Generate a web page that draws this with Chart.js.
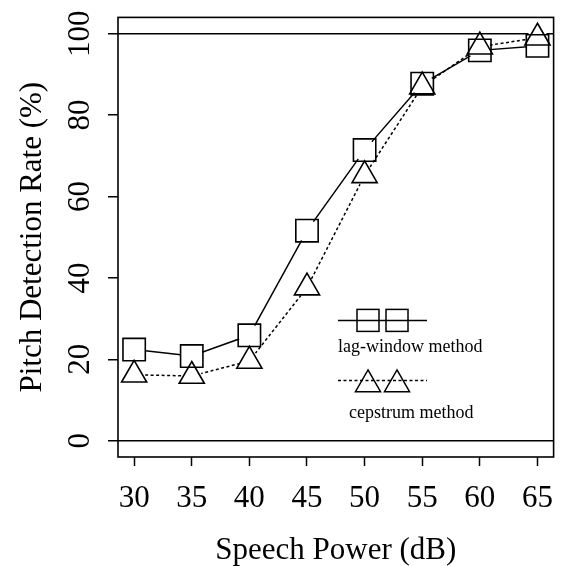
<!DOCTYPE html>
<html>
<head>
<meta charset="utf-8">
<script src="https://cdn.jsdelivr.net/npm/chart.js@4.4.0/dist/chart.umd.min.js"></script>
<style>
body { margin: 0; background: #fff; }
#wrap { width: 571px; height: 566px; }
</style>
</head>
<body>
<div id="wrap"><canvas id="pitch-rate" width="571" height="566"></canvas></div>
<script>
var speechPower = [30, 35, 40, 45, 50, 55, 60, 65];
var lagWindow = [22.4, 20.8, 25.9, 51.6, 71.4, 87.7, 95.9, 97.0];
var cepstrum = [16.2, 15.9, 19.6, 37.6, 65.2, 87.0, 96.8, 99.0];
var xTicks = [30, 35, 40, 45, 50, 55, 60, 65];
var yTicks = [0, 20, 40, 60, 80, 100];
var seriesNames = ['lag-window method', 'cepstrum method'];
var xTitle = 'Speech Power (dB)';
var yTitle = 'Pitch Detection Rate (%)';

Chart.defaults.font.family = 'Liberation Serif';
Chart.defaults.color = '#000';

function toPoints(ys) {
  return speechPower.map(function(x, i) { return {x: x, y: ys[i]}; });
}

// triangle path, centroid on (cx, cy) like the chart markers
function triPath(ctx, cx, cy, r) {
  var h = r * Math.sin(Math.PI / 3);
  ctx.beginPath();
  ctx.moveTo(cx, cy - r);
  ctx.lineTo(cx + h, cy + r / 2);
  ctx.lineTo(cx - h, cy + r / 2);
  ctx.closePath();
}

var boxPlugin = {
  id: 'plotBox',
  afterDraw: function(chart) {
    var ctx = chart.ctx, a = chart.chartArea;
    ctx.save();
    ctx.strokeStyle = '#000';
    ctx.lineWidth = 1.6;
    ctx.strokeRect(a.left, a.top, a.right - a.left, a.bottom - a.top);
    ctx.restore();
  }
};

var legendPlugin = {
  id: 'rLegend',
  afterDraw: function(chart) {
    var ctx = chart.ctx, a = chart.chartArea;
    var x0 = a.left + 220, x1 = a.left + 309;
    var m1 = a.left + 250, m2 = a.left + 279;
    var y1 = a.top + 303, y2 = a.top + 363, yt = a.top + 367;
    ctx.save();
    ctx.strokeStyle = '#000';
    ctx.lineWidth = 1.5;
    ctx.beginPath(); ctx.moveTo(x0, y1); ctx.lineTo(x1, y1); ctx.stroke();
    [m1, m2].forEach(function(mx) { ctx.strokeRect(mx - 11, y1 - 11, 22, 22); });
    ctx.setLineDash([3, 2.5]);
    ctx.beginPath(); ctx.moveTo(x0, y2); ctx.lineTo(x1, y2); ctx.stroke();
    ctx.setLineDash([]);
    [m1, m2].forEach(function(mx) { triPath(ctx, mx, yt, 14.5); ctx.stroke(); });
    ctx.fillStyle = '#000';
    ctx.font = '18px "Liberation Serif"';
    ctx.textAlign = 'left';
    ctx.textBaseline = 'alphabetic';
    ctx.fillText(seriesNames[0], a.left + 220, a.top + 335);
    ctx.fillText(seriesNames[1], a.left + 231, a.top + 401);
    ctx.restore();
  }
};

var ctx = document.getElementById('pitch-rate').getContext('2d');
var pitchChart = new Chart(ctx, {
  type: 'line',
  data: {
    datasets: [
      {label: seriesNames[0], data: toPoints(lagWindow), borderColor: '#000', borderWidth: 1.5,
       pointRadius: 0, fill: false, order: 3},
      {label: seriesNames[1], data: toPoints(cepstrum), borderColor: '#000', borderWidth: 1.5,
       borderDash: [3, 2.5], pointRadius: 0, fill: false, order: 3},
      // white discs give the gaps round the points, as in R type "b"
      {data: toPoints(lagWindow), showLine: false, pointStyle: 'circle', pointRadius: 11,
       pointBackgroundColor: '#fff', pointBorderWidth: 0, pointBorderColor: '#fff', order: 2},
      {data: toPoints(cepstrum), showLine: false, pointStyle: 'circle', pointRadius: 10,
       pointBackgroundColor: '#fff', pointBorderWidth: 0, pointBorderColor: '#fff', order: 2},
      {data: toPoints(lagWindow), showLine: false, pointStyle: 'rect', pointRadius: 15.8,
       pointBackgroundColor: 'rgba(0,0,0,0)', pointBorderColor: '#000', pointBorderWidth: 1.6, order: 1},
      {data: toPoints(cepstrum), showLine: false, pointStyle: 'triangle', pointRadius: 14.5,
       pointBackgroundColor: 'rgba(0,0,0,0)', pointBorderColor: '#000', pointBorderWidth: 1.6, order: 1}
    ]
  },
  options: {
    responsive: false,
    animation: false,
    layout: {padding: {left: 10, top: 16, right: 12, bottom: 0}},
    plugins: {legend: {display: false}, tooltip: {enabled: false}},
    scales: {
      x: {
        type: 'linear',
        min: 28.6,
        max: 66.4,
        afterBuildTicks: function(scale) { scale.ticks = xTicks.map(function(v) { return {value: v}; }); },
        afterFit: function(scale) { scale.height = 109; },
        border: {display: false},
        grid: {drawOnChartArea: false, tickLength: 9, tickColor: '#000', tickWidth: 1.5},
        ticks: {autoSkip: false, maxRotation: 0, padding: 14, color: '#000',
                font: {size: 31, lineHeight: 1.2}},
        title: {display: true, text: xTitle, color: '#000', padding: {top: 0, bottom: 0},
                font: {size: 31, lineHeight: 1.0}}
      },
      y: {
        min: -4,
        max: 104,
        z: 1,
        afterBuildTicks: function(scale) { scale.ticks = yTicks.map(function(v) { return {value: v}; }); },
        afterFit: function(scale) { scale.width = 108; scale.paddingTop = 0; scale.paddingBottom = 0; },
        border: {display: false},
        grid: {
          color: function(c) { return (c.tick && (c.tick.value === 0 || c.tick.value === 100)) ? '#000' : 'rgba(0,0,0,0)'; },
          lineWidth: 1.5,
          tickLength: 10,
          tickColor: '#000',
          tickWidth: 1.5
        },
        ticks: {autoSkip: false, minRotation: 90, maxRotation: 90, crossAlign: 'center', padding: 4,
                color: '#000', font: {size: 31, lineHeight: 1.2}},
        title: {display: true, text: yTitle, color: '#000', padding: {top: 4.4, bottom: 0},
                font: {size: 31, lineHeight: 1.2}}
      }
    }
  },
  plugins: [boxPlugin, legendPlugin]
});
</script>
</body>
</html>
